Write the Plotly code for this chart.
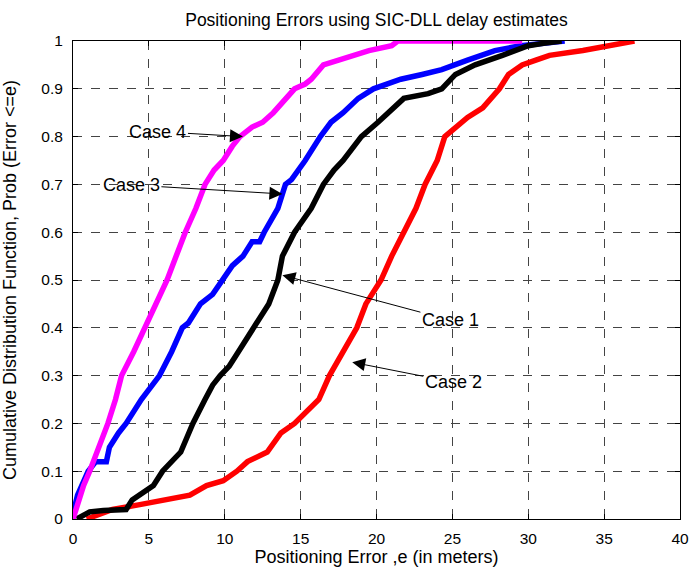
import plotly.graph_objects as go

# ---- data ----
case4_x = [0, 0.3, 0.7, 1.1, 1.7, 2.3, 2.8, 3.2, 4.0, 4.75, 5.5, 6.2, 6.8, 7.4, 8.1, 8.7, 9.3, 9.9,
           10.5, 11.0, 11.8, 12.5, 13.2, 13.8, 14.6, 15.3, 15.7, 16.5, 17.5, 18.5, 19.5, 21.0, 21.4, 29.6]
case4_y = [0, 0.03, 0.07, 0.10, 0.15, 0.20, 0.25, 0.30, 0.35, 0.40, 0.45, 0.50, 0.55, 0.60, 0.65, 0.70, 0.73, 0.75,
           0.78, 0.80, 0.82, 0.83, 0.85, 0.87, 0.90, 0.91, 0.92, 0.95, 0.96, 0.97, 0.98, 0.99, 1.0, 1.0]

case3_x = [0, 0.3, 1.0, 1.5, 2.2, 2.4, 3.0, 3.5, 4.5, 5.7, 6.5, 7.2, 7.6, 8.4, 9.2, 9.9, 10.5, 11.2, 11.8,
           12.3, 12.6, 13.5, 14.0, 14.4, 15.3, 16.3, 17.0, 17.8, 18.8, 19.8, 21.6, 23.0, 24.3, 26.0, 27.8,
           29.5, 31.0, 32.4]
case3_y = [0.01, 0.05, 0.10, 0.12, 0.12, 0.15, 0.18, 0.20, 0.25, 0.30, 0.35, 0.40, 0.41, 0.45, 0.47, 0.50, 0.53, 0.55, 0.58,
           0.58, 0.60, 0.65, 0.70, 0.71, 0.75, 0.80, 0.83, 0.85, 0.88, 0.90, 0.92, 0.93, 0.94, 0.96, 0.98,
           0.99, 0.995, 1.0]

case1_x = [0.25, 0.8, 1.1, 2.0, 3.5, 3.9, 4.4, 5.3, 5.9, 6.5, 7.1, 7.5, 7.9, 8.7, 9.2, 9.7, 10.3, 10.9, 11.9,
           12.4, 12.9, 13.5, 13.8, 14.6, 15.0, 15.7, 16.5, 17.2, 17.8, 19.0, 20.1, 20.8, 21.8, 23.4, 24.3,
           25.2, 26.5, 28.3, 30.0, 31.0, 32.2]
case1_y = [0, 0.01, 0.015, 0.018, 0.02, 0.04, 0.05, 0.07, 0.10, 0.12, 0.14, 0.17, 0.20, 0.25, 0.28, 0.30, 0.32, 0.35, 0.40,
           0.43, 0.45, 0.50, 0.55, 0.60, 0.62, 0.65, 0.70, 0.73, 0.75, 0.80, 0.83, 0.85, 0.88, 0.89, 0.90,
           0.93, 0.95, 0.97, 0.99, 0.995, 1.0]

case2_x = [0.9, 2.6, 4.4, 6.2, 7.7, 8.8, 9.9, 10.8, 11.5, 12.8, 13.7, 14.6, 15.6, 16.2, 16.9, 17.8, 18.7, 19.3,
           20.3, 21.0, 21.8, 22.6, 23.2, 24.0, 24.5, 25.2, 26.0, 27.0, 27.6, 28.1, 28.7, 29.6, 30.5, 31.4,
           33.6, 35.3, 37.0]
case2_y = [0, 0.02, 0.03, 0.04, 0.05, 0.07, 0.08, 0.10, 0.12, 0.14, 0.18, 0.20, 0.23, 0.25, 0.30, 0.35, 0.40, 0.45,
           0.50, 0.55, 0.60, 0.65, 0.70, 0.75, 0.80, 0.82, 0.84, 0.86, 0.88, 0.90, 0.93, 0.95, 0.96, 0.97,
           0.98, 0.99, 1.0]

x_ticks = [0, 5, 10, 15, 20, 25, 30, 35, 40]
y_ticks = [0, 0.1, 0.2, 0.3, 0.4, 0.5, 0.6, 0.7, 0.8, 0.9, 1]
y_tick_labels = ["0", "0.1", "0.2", "0.3", "0.4", "0.5", "0.6", "0.7", "0.8", "0.9", "1"]

labels = ["Case 4", "Case 3", "Case 1", "Case 2"]
label_pts_x = [11.2, 13.8, 13.8, 18.4]
label_pts_y = [0.80, 0.68, 0.51, 0.328]
label_ax = [-85, -151, 168, 101]
label_ay = [-5, -9, 45, 20]

FONT = "Liberation Sans, Arial, sans-serif"

fig = go.Figure()
series = [
    (case2_x, case2_y, "#ff0000"),
    (case3_x, case3_y, "#0000ff"),
    (case1_x, case1_y, "#000000"),
    (case4_x, case4_y, "#ff00ff"),
]
for xs, ys, col in series:
    fig.add_trace(go.Scatter(x=xs, y=ys, mode="lines",
                             line=dict(color=col, width=5.5), showlegend=False))

for txt, px, py, ax, ay in zip(labels, label_pts_x, label_pts_y, label_ax, label_ay):
    fig.add_annotation(x=px, y=py, text=txt, showarrow=True, ax=ax, ay=ay,
                       arrowhead=2, arrowsize=2.6, arrowwidth=1, arrowcolor="black",
                       font=dict(family=FONT, size=18, color="black"))

axis_common = dict(showline=True, linecolor="black", linewidth=1, mirror="ticks",
                   ticks="inside", ticklen=5, tickcolor="black", automargin=False,
                   showgrid=True, gridcolor="#444444", griddash="dash", gridwidth=1,
                   zeroline=False, tickfont=dict(family=FONT, size=15.5, color="black"))

fig.update_xaxes(range=[0, 40], tickvals=x_ticks, ticktext=[str(v) for v in x_ticks],
                 ticklabelstandoff=5,
                 title=dict(text="Positioning Error ,e (in meters)", standoff=4,
                            font=dict(family=FONT, size=18, color="black")),
                 **axis_common)
fig.update_yaxes(range=[0, 1], tickvals=y_ticks, ticktext=y_tick_labels,
                 ticklabelstandoff=6,
                 title=dict(text="Cumulative Distribution Function, Prob (Error <=e)", standoff=22,
                            font=dict(family=FONT, size=18, color="black")),
                 **axis_common)

fig.update_layout(
    width=692, height=571,
    margin=dict(l=73, r=12, t=41, b=52),
    paper_bgcolor="white", plot_bgcolor="white",
    hovermode=False,
    title=dict(text="Positioning Errors using SIC-DLL delay estimates",
               x=0.5, xanchor="center", xref="paper",
               y=1 - 19.5 / 571, yanchor="middle", yref="container",
               font=dict(family=FONT, size=17.5, color="black")),
)

fig.write_html("out.html", config={"displayModeBar": False},
               post_script="document.body.style.margin='0';")
